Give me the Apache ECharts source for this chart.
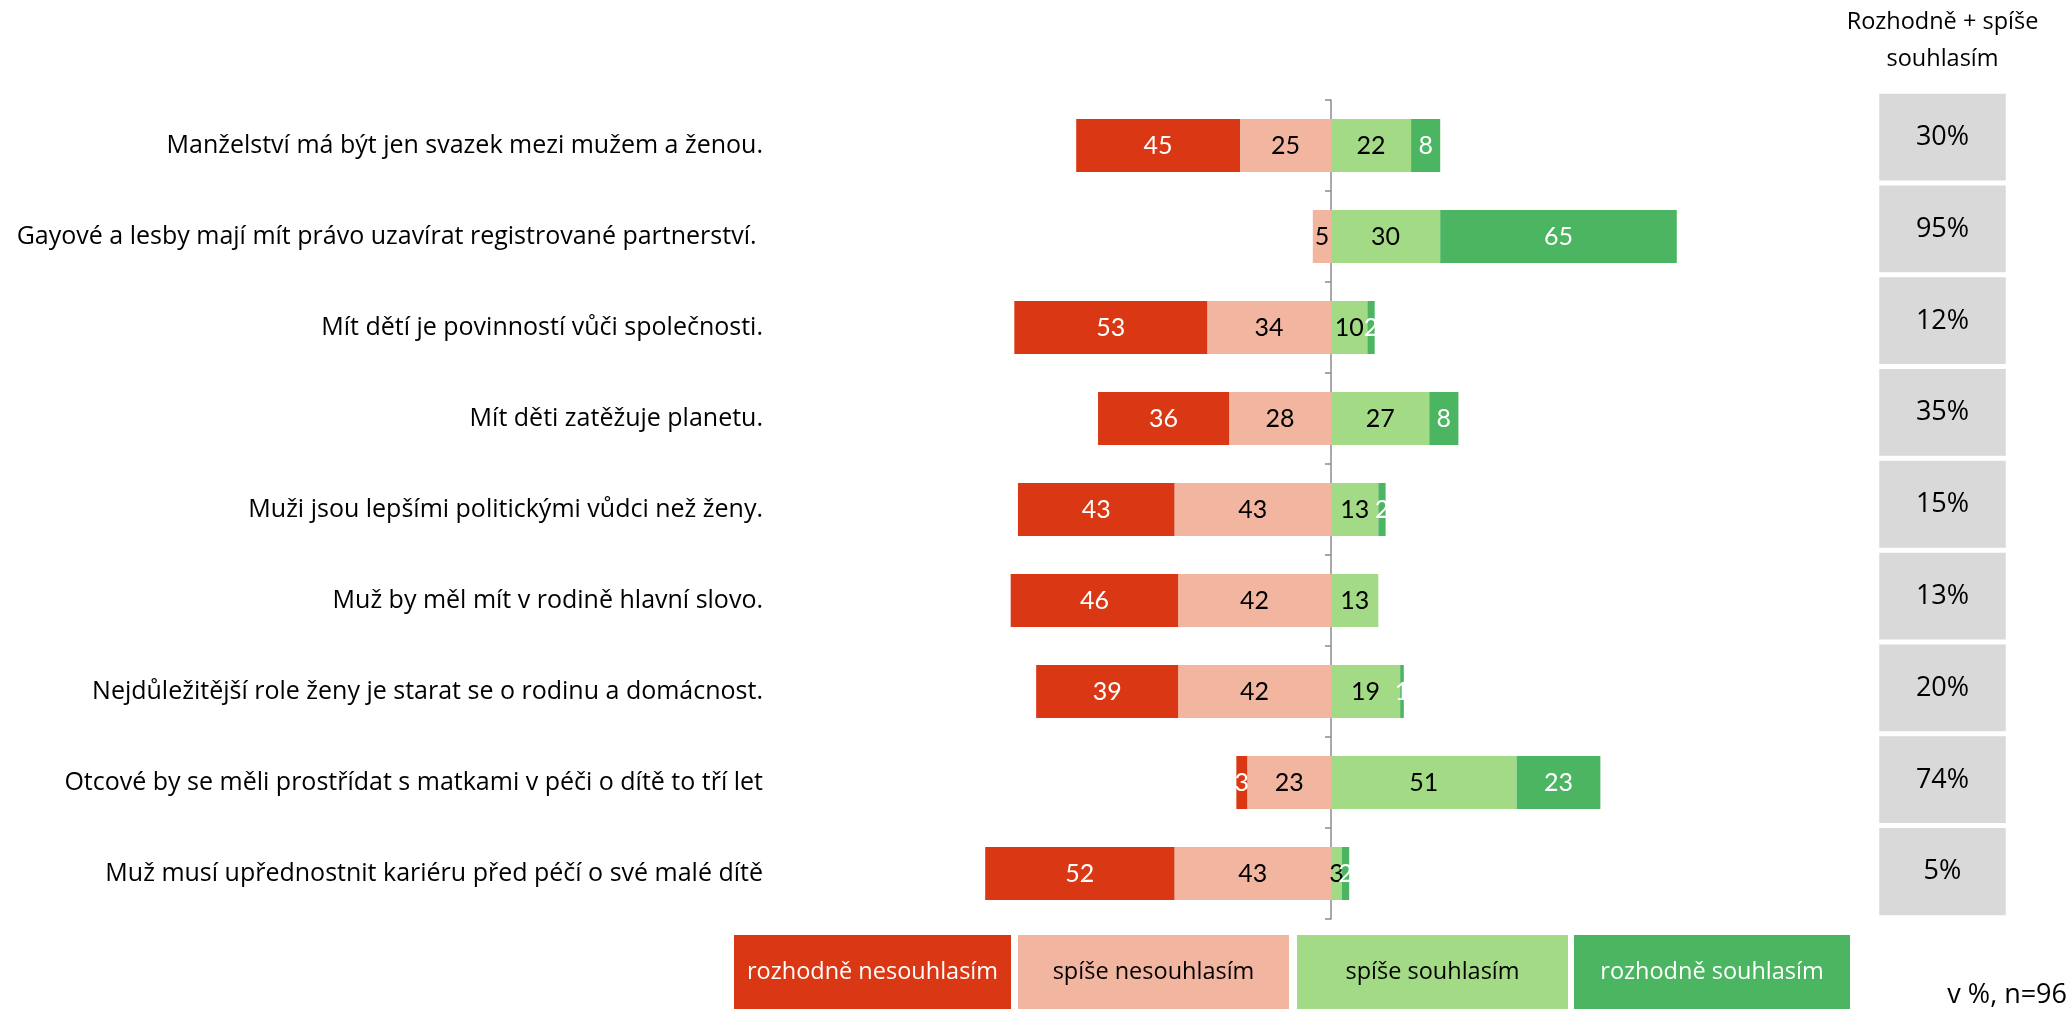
<!DOCTYPE html>
<html>
<head>
<meta charset="utf-8">
<script src="https://cdn.jsdelivr.net/npm/echarts@6/dist/echarts.min.js"></script>
<style>
html,body{margin:0;padding:0;background:#fff;}
#chart{width:2070px;height:1016px;}
</style>
</head>
<body>
<div id="chart"></div>
<script>
const categories = [
  'Manželství má být jen svazek mezi mužem a ženou.',
  'Gayové a lesby mají mít právo uzavírat registrované partnerství. ',
  'Mít dětí je povinností vůči společnosti.',
  'Mít děti zatěžuje planetu.',
  'Muži jsou lepšími politickými vůdci než ženy.',
  'Muž by měl mít v rodině hlavní slovo.',
  'Nejdůležitější role ženy je starat se o rodinu a domácnost.',
  'Otcové by se měli prostřídat s matkami v péči o dítě to tří let',
  'Muž musí upřednostnit kariéru před péčí o své malé dítě'
];
const strongDisagree = [45, 0, 53, 36, 43, 46, 39, 3, 52];
const ratherDisagree = [25, 5, 34, 28, 43, 42, 42, 23, 43];
const ratherAgree    = [22, 30, 10, 27, 13, 13, 19, 51, 3];
const strongAgree    = [8, 65, 2, 8, 2, 0, 1, 23, 2];
const agreeTotal     = [30, 95, 12, 35, 15, 13, 20, 74, 5];
const seriesNames = ['rozhodně nesouhlasím', 'spíše nesouhlasím', 'spíše souhlasím', 'rozhodně souhlasím'];
const summaryHeader = 'Rozhodně + spíše\nsouhlasím';
const noteText = 'v %, n=96';

const FONT = '"Open Sans"';
const NUMFONT = 'Lato';
const colors = ['#DA3714', '#F2B5A0', '#A3DA86', '#4CB562'];
const labelColors = ['#ffffff', '#000000', '#000000', '#ffffff'];

function segLabel(idx) {
  return {
    show: true,
    position: 'inside',
    color: labelColors[idx],
    fontFamily: NUMFONT,
    fontSize: 25,
    formatter: p => { const v = Math.abs(p.value); return v ? String(v) : ''; }
  };
}

const chart = echarts.init(document.getElementById('chart'), null, {renderer: 'canvas'});

const legendBoxes = [
  {x: 734, w: 277}, {x: 1018, w: 271}, {x: 1297, w: 271}, {x: 1574, w: 276}
];
const graphics = legendBoxes.map((b, i) => ({
  type: 'group',
  left: b.x, top: 935,
  children: [
    {type: 'rect', shape: {x: 0, y: 0, width: b.w, height: 74}, style: {fill: colors[i]}},
    {type: 'text', x: b.w / 2, y: 37, style: {text: seriesNames[i], fill: labelColors[i], font: '23.5px ' + FONT, align: 'center', verticalAlign: 'middle'}}
  ]
}));
graphics.push({
  type: 'text', right: 3, top: 982,
  style: {text: noteText, fill: '#000', font: '27px ' + FONT, align: 'right'}
});

const option = {
  animation: false,
  backgroundColor: '#ffffff',
  grid: [
    {left: 967, width: 728, top: 100, height: 819, outerBoundsMode: 'none', containLabel: false},
    {left: 1877, width: 131, top: 91.5, height: 826, outerBoundsMode: 'none', containLabel: false}
  ],
  xAxis: [
    {type: 'value', gridIndex: 0, min: -100, max: 100, show: false},
    {type: 'category', gridIndex: 1, position: 'top', data: [summaryHeader],
     axisLine: {show: false}, axisTick: {show: false},
     axisLabel: {show: true, margin: 14, fontFamily: FONT, fontSize: 23.5, color: '#000', lineHeight: 37, align: 'center'}}
  ],
  yAxis: [
    {type: 'category', gridIndex: 0, position: 'left', data: categories, inverse: true,
     axisLine: {show: true, onZero: true, lineStyle: {color: '#8C8C8C', width: 1.5}},
     axisTick: {show: true, length: 6, lineStyle: {color: '#8C8C8C', width: 1.5}},
     axisLabel: {show: false}},
    {type: 'category', gridIndex: 0, position: 'left', offset: 0, data: categories, inverse: true,
     axisLine: {show: false, onZero: false}, axisTick: {show: false},
     axisLabel: {show: true, margin: 204, fontFamily: FONT, fontSize: 25, color: '#000'}},
    {type: 'category', gridIndex: 1, data: categories, inverse: true, show: false}
  ],
  visualMap: {
    show: false, seriesIndex: 4, min: 0, max: 100,
    inRange: {color: ['#D9D9D9', '#D9D9D9']}
  },
  series: [
    {name: seriesNames[1], type: 'bar', stack: 'a', xAxisIndex: 0, yAxisIndex: 0, barWidth: 53,
     data: ratherDisagree.map(v => -v), itemStyle: {color: colors[1]}, label: segLabel(1)},
    {name: seriesNames[0], type: 'bar', stack: 'a', xAxisIndex: 0, yAxisIndex: 0, barWidth: 53,
     data: strongDisagree.map(v => -v), itemStyle: {color: colors[0]}, label: segLabel(0)},
    {name: seriesNames[2], type: 'bar', stack: 'a', xAxisIndex: 0, yAxisIndex: 0, barWidth: 53,
     data: ratherAgree, itemStyle: {color: colors[2]}, label: segLabel(2)},
    {name: seriesNames[3], type: 'bar', stack: 'a', xAxisIndex: 0, yAxisIndex: 0, barWidth: 53,
     data: strongAgree, itemStyle: {color: colors[3]}, label: segLabel(3)},
    {name: 'summary', type: 'heatmap', xAxisIndex: 1, yAxisIndex: 2,
     data: agreeTotal.map((v, i) => [0, i, v]),
     itemStyle: {borderColor: '#ffffff', borderWidth: 5},
     label: {show: true, fontFamily: FONT, fontSize: 27, color: '#000', formatter: p => p.value[2] + '%'}}
  ],
  graphic: graphics
};
chart.setOption(option);
</script>
</body>
</html>
